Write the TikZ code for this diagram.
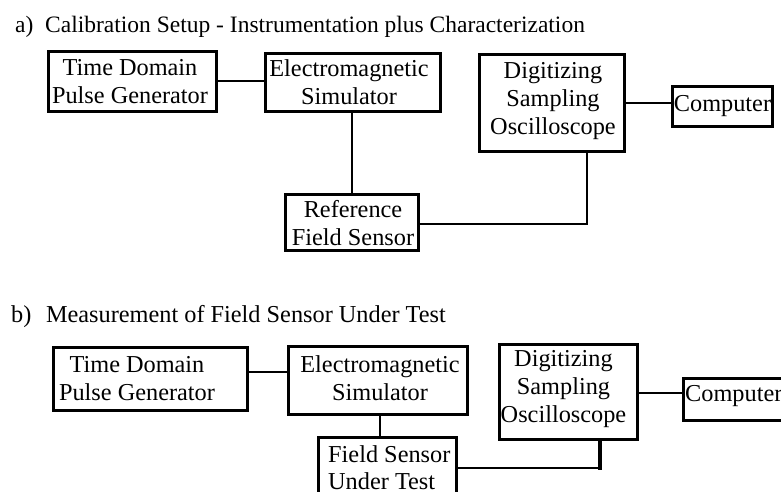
\documentclass[tikz,border=0pt]{standalone}
\usepackage{fontspec}
\setmainfont{Liberation Serif}
\usetikzlibrary{calc}
\tikzset{
  box/.style={draw, line width=3pt, inner sep=0pt},
  lbl/.style={inner sep=0pt, align=center, font=\fontsize{24.3}{28}\selectfont},
  lbll/.style={inner sep=0pt, align=left, font=\fontsize{24.3}{27.5}\selectfont},
  ttl/.style={inner sep=0pt, font=\fontsize{23.5}{28}\selectfont},
  ttlb/.style={inner sep=0pt, font=\fontsize{24.3}{28}\selectfont},
  wire/.style={line width=2pt},
}
\begin{document}
\begin{tikzpicture}[x=1pt,y=-1pt]
\fill[white] (0,0) rectangle (781,491);
\useasboundingbox (0,0) rectangle (781,491);

% titles
\node[ttl, anchor=base west] (titleA) at (15,32) {a)\hspace{0.5em}Calibration Setup - Instrumentation plus Characterization};
\node[ttlb, anchor=base west] (titleB) at (11,322) {b)\hspace{0.6em}Measurement of Field Sensor Under Test};

% ---- part a boxes
\node[box, minimum width=168, minimum height=60] (tdpgA) at (132,81) {};
\node[box, minimum width=175, minimum height=58] (emA) at (352.5,82) {};
\node[box, minimum width=133, minimum height=56] (refA) at (351.5,222) {};
\node[box, minimum width=145, minimum height=97] (oscA) at (551.5,102.5) {};
\node[box, minimum width=100, minimum height=40] (compA) at (722,106) {};

\node[lbl] (tdpgAt) at (130,82) {Time Domain\\Pulse Generator};
\node[lbl] (emAt) at (349,82) {Electromagnetic\\Simulator};
\node[lbl] (refAt) at (353,223.5) {Reference\\Field Sensor};
\node[lbl] (oscAt) at (553,101.5) {Digitizing\\Sampling\\Oscilloscope};
\node[lbl] (compAt) at (722.5,106) {Computer};

% ---- part a connectors
\draw[wire] (tdpgA.east) -- (tdpgA.east -| emA.west);
\draw[wire] (refA.north) -- (refA.north |- emA.south);
\draw[wire] (refA.east |- 0,224) -| (587,0 |- oscA.south);
\draw[wire] (oscA.east) -- (oscA.east -| compA.west);

% ---- part b boxes
\node[box, minimum width=194, minimum height=63] (tdpgB) at (150,378.5) {};
\node[box, minimum width=179, minimum height=68] (emB) at (377.5,380) {};
\node[box, minimum width=138, minimum height=72] (fsutB) at (387,473) {};
\node[box, minimum width=138, minimum height=95] (oscB) at (568,391.5) {};
\node[box, minimum width=116, minimum height=42] (compB) at (741,399) {};

\node[lbl] (tdpgBt) at (137,378.5) {Time Domain\\Pulse Generator};
\node[lbl] (emBt) at (380,378.5) {Electromagnetic\\Simulator};
\node[lbll, anchor=north west] (fsutBt) at (328,445) {Field Sensor\\Under Test};
\node[lbl] (oscBt) at (563.5,389.5) {Digitizing\\Sampling\\Oscilloscope};
\node[lbl, anchor=west] (compBt) at (685,396.5) {Computer};

% ---- part b connectors
\coordinate (cB) at (600,468);
\draw[wire] (tdpgB.east |- 0,372) -- (emB.west |- 0,372);
\draw[wire] (fsutB.north -| 380,0) -- (emB.south -| 380,0);
\draw[wire] (fsutB.east |- cB) -- (cB);
\draw[line width=4pt, line cap=rect] (cB) -- (cB |- oscB.south);
\draw[wire] (oscB.east |- 0,393) -- (compB.west |- 0,393);
\end{tikzpicture}
\end{document}
